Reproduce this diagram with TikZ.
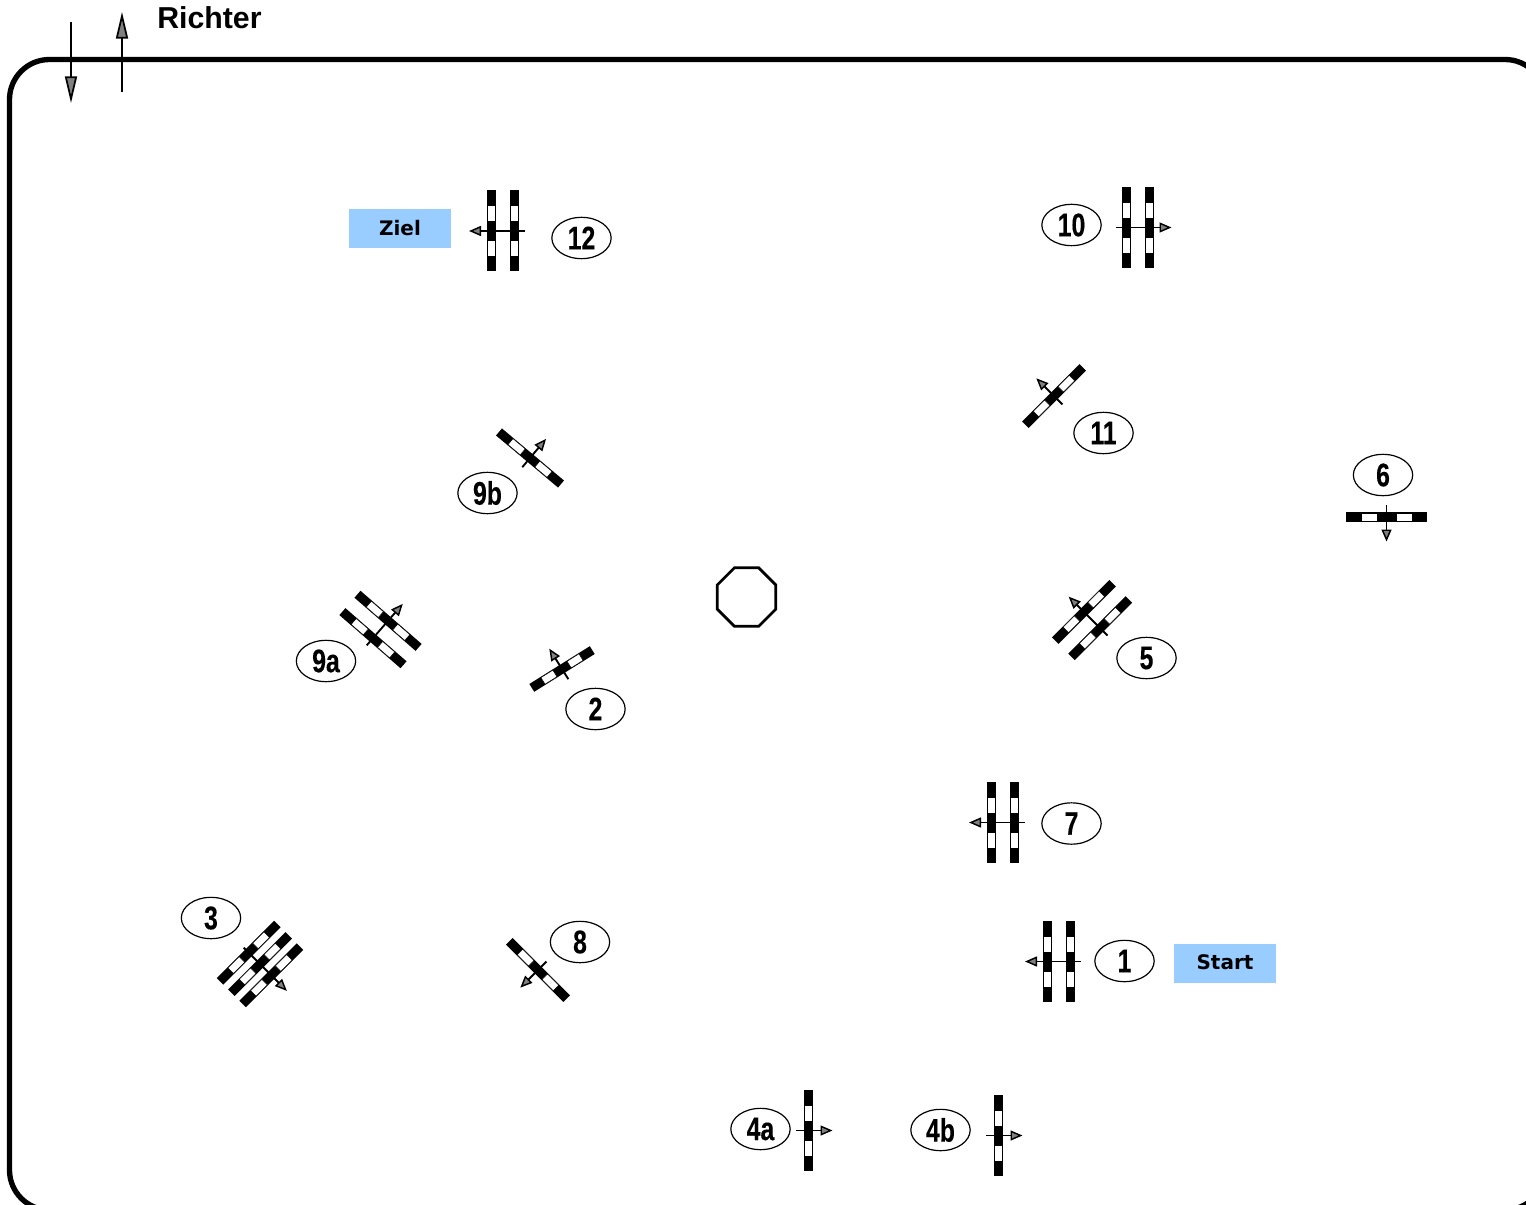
\documentclass[tikz,border=0pt]{standalone}
\usepackage{fontspec}
\setmainfont{Liberation Sans}
\newfontfamily\numfont[FakeStretch=0.76,FakeBold=0.2]{Liberation Sans Bold}
\newfontfamily\boxfont{DejaVu Sans Bold}
\usetikzlibrary{arrows.meta,shapes.geometric}
\definecolor{boxblue}{HTML}{99CCFF}
\definecolor{headgray}{HTML}{808080}
\tikzset{
  x=0.75pt,y=-0.75pt,
  frameline/.style={line width=4pt,rounded corners=30pt},
  numlabel/.style={draw,ellipse,line width=0.9pt,minimum width=44.5pt,minimum height=31pt,inner sep=0pt,font=\numfont\fontsize{24.5pt}{24.5pt}\selectfont},
  bluebox/.style={fill=boxblue,minimum width=76.5pt,minimum height=29.25pt,inner sep=0pt,font=\boxfont\fontsize{15pt}{15pt}\selectfont},
  smallarrow/.style={line width=1.4pt,-{Stealth[length=9pt,width=7.5pt,inset=0pt,fill=headgray,line width=1.1pt]}},
  bigarrow/.style={line width=1.8pt,-{Stealth[length=20pt,width=9pt,inset=0pt,fill=headgray,line width=1.3pt]}},
  stopsign/.style={draw,regular polygon,regular polygon sides=8,line width=2pt,minimum size=47.5pt,inner sep=0pt},
  barblack/.style={fill=black,draw=none},
  barwhite/.style={fill=white,draw=black,line width=0.4pt}
}
% one striped bar centred at local x = #1
\newcommand{\stripebar}[1]{%
  \fill[barblack] (#1-4.6,-40.5) rectangle (#1+4.6,40.5);
  \draw[barwhite] (#1-3.9,-25.5) rectangle (#1+3.9,-9.5);
  \draw[barwhite] (#1-3.9,9.5) rectangle (#1+3.9,25.5);
}
% [bar scale] centre x, y, arrow direction (ccw degrees), tail, tip, list of bar offsets
\newcommand{\jumpmark}[7][1]{%
  \begin{scope}[shift={(#2,#3)},rotate=#4]
    \begin{scope}[yscale=#1]
      \foreach \b in {#7} {\stripebar{\b}}
    \end{scope}
    \coordinate (tail) at (#5,0);
    \coordinate (tip) at (#6,0);
    \draw[smallarrow] (tail) -- (tip);
  \end{scope}}
\begin{document}
\begin{tikzpicture}
\useasboundingbox (0,0) rectangle (1526,1205);
\clip (0,0) rectangle (1526,1205);
\draw[frameline] (9.5,1210) rectangle (1545,59.5);
\node[anchor=base west,inner sep=0pt,font=\bfseries\fontsize{22.7pt}{22.7pt}\selectfont] (title) at (157,29) {Richter};
\coordinate (dnA) at (71,22); \coordinate (dnB) at (71,103);
\coordinate (upA) at (122,92); \coordinate (upB) at (122,12);
\draw[bigarrow] (dnA) -- (dnB);
\draw[bigarrow] (upA) -- (upB);
\node[stopsign] (stop) at (746.5,597) {};
\node[bluebox] (ziel) at (400,228.5) {\raisebox{1.5pt}{Ziel}};
\node[bluebox] (start) at (1225,963.5) {\raisebox{1.5pt}{Start}};
\jumpmark{503}{231}{180}{-22}{34}{-11.5,11.5}
\jumpmark{1138}{227.5}{0}{-22}{33.5}{-11.5,11.5}
\jumpmark{1003}{822.5}{180}{-22}{34}{-11.5,11.5}
\jumpmark{1059}{961.5}{180}{-22}{34}{-11.5,11.5}
\jumpmark{808.5}{1130.5}{0}{-12.5}{24}{0}
\jumpmark{998.5}{1135.5}{0}{-12.5}{24}{0}
\jumpmark{1386.5}{517}{-90}{-12}{24.5}{0}
\jumpmark{1054}{396}{135}{-12}{25}{0}
\jumpmark{530}{458}{50}{-12}{25}{0}
\jumpmark{380.5}{629.5}{49}{-21}{34}{-11.5,11.5}
\jumpmark[0.88]{562}{669}{122}{-12}{24}{0}
\jumpmark{1092}{620}{135}{-22}{33}{-11.5,11.5}
\jumpmark{260}{964}{-45}{-23}{38}{-16,0,16}
\jumpmark{538}{970}{-135}{-12}{25}{0}
\node[numlabel] (n12) at (581.5,238) {12};
\node[numlabel] (n10) at (1071.5,225) {10};
\node[numlabel] (n11) at (1103.5,433) {11};
\node[numlabel] (n6) at (1383,475) {6};
\node[numlabel] (n9b) at (487.5,493) {9b};
\node[numlabel] (n9a) at (326,661) {9a};
\node[numlabel] (n2) at (595.5,709) {2};
\node[numlabel] (n5) at (1146.5,658) {5};
\node[numlabel] (n7) at (1071.5,823.5) {7};
\node[numlabel] (n3) at (211,918) {3};
\node[numlabel] (n8) at (580,942) {8};
\node[numlabel] (n1) at (1124.5,961) {1};
\node[numlabel] (n4a) at (760.5,1129) {4a};
\node[numlabel] (n4b) at (940.5,1130) {4b};
\end{tikzpicture}
\end{document}
